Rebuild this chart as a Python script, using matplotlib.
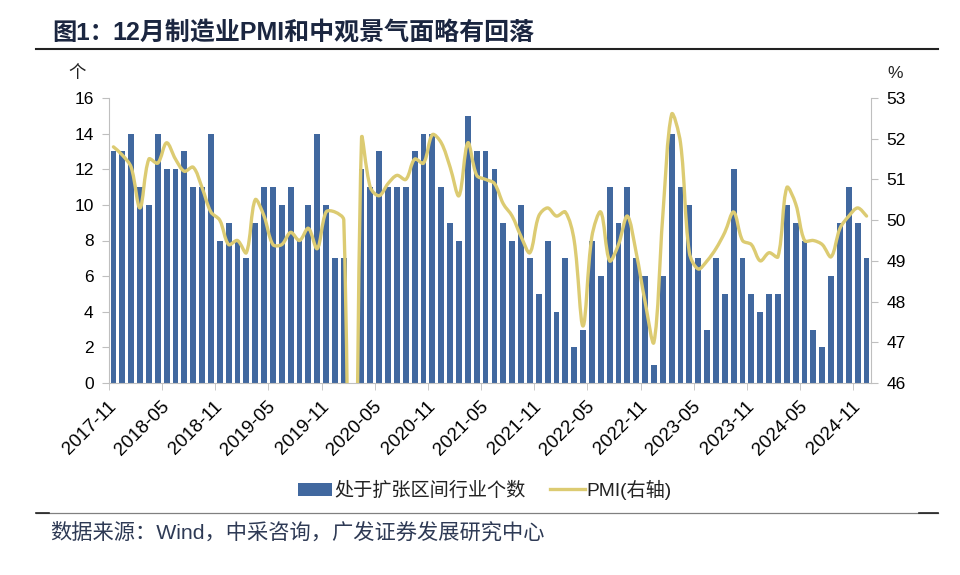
import numpy as np
import pandas as pd
import matplotlib
matplotlib.use("Agg")
import matplotlib.pyplot as plt
from matplotlib.path import Path
from matplotlib.patches import PathPatch, Patch
from matplotlib.lines import Line2D

plt.rcParams['font.family'] = ['Liberation Sans', 'Noto Sans CJK SC']
plt.rcParams['axes.unicode_minus'] = False

# ---------------- data ----------------
months = [str(p) for p in pd.period_range('2017-11', '2024-12', freq='M')]

# number of industries in expansion (None = no data, 2020-02)
expansion_count = [
    13, 13, 14, 11, 10, 14, 12, 12, 13, 11, 11, 14,   # 2017-11 .. 2018-10
    8, 9, 8, 7, 9, 11, 11, 10, 11, 8, 10, 14,         # 2018-11 .. 2019-10
    10, 7, 7, None, 12, 11, 13, 11, 11, 11, 13, 14,   # 2019-11 .. 2020-10
    14, 11, 9, 8, 15, 13, 13, 12, 9, 8, 10, 7,        # 2020-11 .. 2021-10
    5, 8, 4, 7, 2, 3, 8, 6, 11, 9, 11, 7,             # 2021-11 .. 2022-10
    6, 1, 6, 14, 11, 10, 7, 3, 7, 5, 12, 7,           # 2022-11 .. 2023-10
    5, 4, 5, 5, 10, 9, 8, 3, 2, 6, 9, 11,             # 2023-11 .. 2024-10
    9, 7,                                             # 2024-11 .. 2024-12
]

pmi = [
    51.8, 51.6, 51.3, 50.3, 51.5, 51.4, 51.9, 51.5, 51.2, 51.3, 50.8, 50.2,
    50.0, 49.4, 49.5, 49.2, 50.5, 50.1, 49.4, 49.4, 49.7, 49.5, 49.8, 49.3,
    50.2, 50.2, 50.0, 35.7, 52.0, 50.8, 50.6, 50.9, 51.1, 51.0, 51.5, 51.4,
    52.1, 51.9, 51.3, 50.6, 51.9, 51.1, 51.0, 50.9, 50.4, 50.1, 49.6, 49.2,
    50.1, 50.3, 50.1, 50.2, 49.5, 47.4, 49.6, 50.2, 49.0, 49.4, 50.1, 49.2,
    48.0, 47.0, 50.1, 52.6, 51.9, 49.2, 48.8, 49.0, 49.3, 49.7, 50.2, 49.5,
    49.4, 49.0, 49.2, 49.1, 50.8, 50.4, 49.5, 49.5, 49.4, 49.1, 49.8, 50.1,
    50.3, 50.1,
]

tick_labels = ['2017-11', '2018-05', '2018-11', '2019-05', '2019-11', '2020-05',
               '2020-11', '2021-05', '2021-11', '2022-05', '2022-11', '2023-05',
               '2023-11', '2024-05', '2024-11']

bar_label = '处于扩张区间行业个数'
line_label = 'PMI(右轴)'
title_num = '图1：'
title_text = '12月制造业PMI和中观景气面略有回落'
source = '数据来源：Wind，中采咨询，广发证券发展研究中心'

# ---------------- styles ----------------
BAR_C = '#41689f'
LINE_C = '#dccb72'
SPINE_C = '#bfbfbf'
W, H = 960, 575

fig = plt.figure(figsize=(W / 100, H / 100), dpi=100)
ax_l, ax_r, ax_b, ax_t = 109, 871, 383, 98
ax = fig.add_axes([ax_l / W, 1 - ax_b / H, (ax_r - ax_l) / W, (ax_b - ax_t) / H])

x = np.arange(len(months))
valid = [i for i, v in enumerate(expansion_count) if v is not None]
ax.bar(x[valid], [expansion_count[i] for i in valid], width=0.66, color=BAR_C,
       edgecolor='none', zorder=2)

ax.set_xlim(-0.5, len(months) - 0.5)
ax.set_ylim(0, 16)
ax.set_yticks(np.arange(0, 17, 2))

# x ticks: labels at category, tick marks at boundaries
lab_pos = [months.index(t) for t in tick_labels]
ax.set_xticks(lab_pos)
ax.set_xticklabels(tick_labels, rotation=45, ha='right', va='center',
                   rotation_mode='anchor', fontsize=13.5)
ax.tick_params(axis='x', which='major', length=0, pad=15)
ax.set_xticks(np.arange(-0.5, len(months), 6), minor=True)
ax.tick_params(axis='x', which='minor', length=5, color=SPINE_C, direction='out')
ax.tick_params(axis='y', length=5, color=SPINE_C, labelsize=12.5, pad=6)

for sp in ['top', 'right']:
    ax.spines[sp].set_visible(False)
for sp in ['left', 'bottom']:
    ax.spines[sp].set_color(SPINE_C)

ax2 = ax.twinx()
ax2.set_ylim(46, 53)
ax2.set_yticks(np.arange(46, 54, 1))
ax2.tick_params(axis='y', length=5, color=SPINE_C, labelsize=12.5, pad=6)
for sp in ['top', 'left', 'bottom']:
    ax2.spines[sp].set_visible(False)
ax2.spines['right'].set_color(SPINE_C)

# smoothed PMI line (Bezier through the data points)
sx = (ax_r - ax_l) / len(months)
sy = (ax_b - ax_t) / 7.0
P = np.column_stack([x * sx, np.array(pmi) * sy])
n = len(P)
d = np.linalg.norm(np.diff(P, axis=0), axis=1)
verts = [P[0]]
codes = [Path.MOVETO]
k = 1 / 3
for i in range(n - 1):
    p0, p1 = P[i], P[i + 1]
    pm = P[i - 1] if i > 0 else P[i]
    pp = P[i + 2] if i + 2 < n else P[i + 1]
    dm = d[i - 1] if i > 0 else d[i]
    dp = d[i + 1] if i + 2 < n else d[i]
    c1 = p0 + (p1 - pm) * d[i] / (dm + d[i]) * k
    c2 = p1 - (pp - p0) * d[i] / (d[i] + dp) * k
    verts += [c1, c2, p1]
    codes += [Path.CURVE4] * 3
verts = np.array(verts) / np.array([sx, sy])
ax2.add_patch(PathPatch(Path(verts, codes), fill=False, edgecolor=LINE_C, lw=2.4,
                        joinstyle='round', capstyle='round', zorder=3))

# unit labels
fig.text(77 / W, 1 - 73 / H, '个', ha='center', va='center', fontsize=12.5, color='#222222')
fig.text(895 / W, 1 - 73 / H, '%', ha='center', va='center', fontsize=12.5, color='#222222')

# title and rules
fig.text(52 / W, 1 - 33 / H, title_num, ha='left', va='center', fontsize=17.5,
         fontweight='bold', color='#1b2640')
fig.text(112 / W, 1 - 33 / H, title_text, ha='left', va='center', fontsize=18,
         fontweight='bold', color='#1b2640')
fig.add_artist(Line2D([36 / W, 938 / W], [1 - 49 / H] * 2, color='#222222', lw=1.5))
fig.add_artist(Line2D([36 / W, 938 / W], [1 - 512.7 / H] * 2, color='#808080', lw=0.9))
fig.add_artist(Line2D([36 / W, 49 / W], [1 - 512.7 / H] * 2, color='#222222', lw=1.2))
fig.add_artist(Line2D([919 / W, 938 / W], [1 - 512.7 / H] * 2, color='#222222', lw=1.2))

fig.text(50 / W, 1 - 533 / H, source, ha='left', va='center', fontsize=15.3,
         color='#2e3a55')

# legend
handles = [Patch(facecolor=BAR_C, edgecolor='none'),
           Line2D([], [], color=LINE_C, lw=2.4)]
fig.legend(handles, [bar_label, line_label], loc='center',
           bbox_to_anchor=(485 / W, 1 - 490 / H), ncol=2, frameon=False,
           fontsize=13.8, handlelength=1.8, handleheight=0.7, handletextpad=0.1,
           columnspacing=1.3, labelcolor='#222222')

fig.savefig('out.png', dpi=100)
